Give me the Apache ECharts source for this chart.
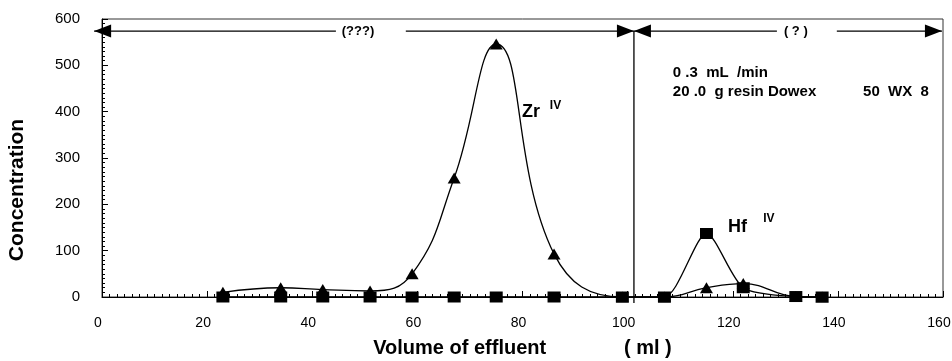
<!DOCTYPE html>
<html><head><meta charset="utf-8">
<script src="https://cdn.jsdelivr.net/npm/echarts@6/dist/echarts.min.js"></script>
<style>html,body{margin:0;padding:0;background:#fff}#c{width:952px;height:361px}</style>
</head><body><div id="c"></div>
<script>
// ---- data ----
const volume = [23, 34, 42, 51, 59, 67, 75, 86, 99, 107, 115, 122, 132, 137];
const zrConc = [10, 20, 16, 13, 50, 257, 546, 93, 0, 0, 20, 29, 1, 0];
const hfConc = [0, 0, 0, 0, 0, 0, 0, 0, 0, 0, 137, 20, 1, 0];
const xTickLabels = [0, 20, 40, 60, 80, 100, 120, 140, 160];
const yTickLabels = [0, 100, 200, 300, 400, 500, 600];
const xTitle = 'Volume of effluent              ( ml )';
const yTitle = 'Concentration';
const regionLabels = ['(???)', '( ? )'];
const noteLines = ['0 .3  mL  /min', '20 .0  g resin Dowex', '50  WX  8'];
const seriesLabels = ['Zr', 'Hf'];
const oxState = 'IV';

// annotation anchors (in data units)
const dividerVolume = 101.2;
const arrowLevel = 574;

const FONT = '"Liberation Sans", Arial, sans-serif';
const chart = echarts.init(document.getElementById('c'), null, {renderer: 'canvas'});

function axisCommon(ticks, minorSplit) {
  return {
    type: 'value',
    min: ticks[0], max: ticks[ticks.length - 1], interval: ticks[1] - ticks[0],
    axisLine: {show: true, onZero: false, lineStyle: {color: '#000', width: 1}},
    axisTick: {show: true, inside: true, length: 6, lineStyle: {color: '#000', width: 1}},
    minorTick: {show: true, splitNumber: minorSplit, length: 3, lineStyle: {color: '#000', width: 1}},
    splitLine: {show: false},
    minorSplitLine: {show: false}
  };
}

const option = {
  animation: false,
  backgroundColor: '#fff',
  grid: {left: 102, right: 9, top: 19, bottom: 64, show: true, borderColor: '#333', borderWidth: 1,
    containLabel: false, outerBoundsMode: 'none'},
  xAxis: Object.assign(axisCommon(xTickLabels, 14), {
    axisLabel: {margin: 19, fontSize: 14, color: '#000', fontFamily: FONT, padding: [0, 8, 0, 0]},
    name: xTitle, nameLocation: 'middle', nameGap: 41,
    nameTextStyle: {fontSize: 20, fontWeight: 'bold', color: '#000', fontFamily: FONT}
  }),
  yAxis: Object.assign(axisCommon(yTickLabels, 10), {
    axisLabel: {margin: 22, fontSize: 15, color: '#000', fontFamily: FONT}
  }),
  series: [
    {
      name: 'Zr', type: 'line', clip: false, smooth: 0.45,
      data: volume.map((v, i) => [v, zrConc[i]]),
      symbol: 'triangle', symbolSize: [13, 11],
      lineStyle: {color: '#000', width: 1.3},
      itemStyle: {color: '#000'}, z: 3
    },
    {
      name: 'Hf', type: 'line', clip: false, smooth: 0.25,
      data: volume.map((v, i) => [v, hfConc[i]]),
      symbol: 'rect', symbolSize: [13, 11],
      lineStyle: {color: '#000', width: 1.3},
      itemStyle: {color: '#000'}, z: 4
    }
  ]
};
chart.setOption(option);

function px(x, y) { return chart.convertToPixel({gridIndex: 0}, [x, y]); }
const g = [];
const lineStyle = {stroke: '#000', lineWidth: 1.3};
function seg(x1, x2, y) {
  const a = px(x1, y), b = px(x2, y);
  g.push({type: 'line', shape: {x1: a[0], y1: a[1], x2: b[0], y2: b[1]}, style: lineStyle, z: 10});
}
function head(x, y, dir) {
  const t = px(x, y);
  g.push({type: 'polygon', shape: {points: [[t[0], t[1]], [t[0] - dir * 17, t[1] - 6.5], [t[0] - dir * 17, t[1] + 6.5]]},
    style: {fill: '#000'}, z: 10});
}
function txt(x, y, s, size, align) {
  const p = px(x, y);
  g.push({type: 'text', x: p[0], y: p[1], z: 11,
    style: {text: s, fill: '#000', font: 'bold ' + size + 'px ' + FONT, textAlign: align || 'left', textVerticalAlign: 'middle'}});
}
// left region arrow
seg(-1.5, 44.5, arrowLevel); seg(57.8, dividerVolume, arrowLevel);
head(-1.5, arrowLevel, -1); head(dividerVolume, arrowLevel, 1);
txt(48.7, arrowLevel, regionLabels[0], 13, 'center');
// right region arrow
seg(dividerVolume, 128.4, arrowLevel); seg(139.8, 159.8, arrowLevel);
head(dividerVolume, arrowLevel, -1); head(159.8, arrowLevel, 1);
txt(132, arrowLevel, regionLabels[1], 13, 'center');
// divider
(function () {
  const a = px(dividerVolume, arrowLevel), b = px(dividerVolume, -13);
  g.push({type: 'line', shape: {x1: a[0], y1: a[1], x2: b[0], y2: b[1]}, style: lineStyle, z: 10});
})();
// notes
txt(108.6, 483, noteLines[0], 15);
txt(108.6, 442, noteLines[1], 15);
txt(144.8, 442, noteLines[2], 15);
// series labels
txt(79.9, 399, seriesLabels[0], 18);
txt(85.2, 412, oxState, 12);
txt(119.1, 151, seriesLabels[1], 18);
txt(125.8, 170, oxState, 12);
// y-axis title (placed lower than axis centre, as in the reference)
g.push({type: 'text', x: 17.5, y: 190, rotation: Math.PI / 2, z: 11,
  style: {text: yTitle, fill: '#000', font: 'bold 21px ' + FONT, textAlign: 'center', textVerticalAlign: 'middle'}});

chart.setOption({graphic: g});
</script>
</body></html>
